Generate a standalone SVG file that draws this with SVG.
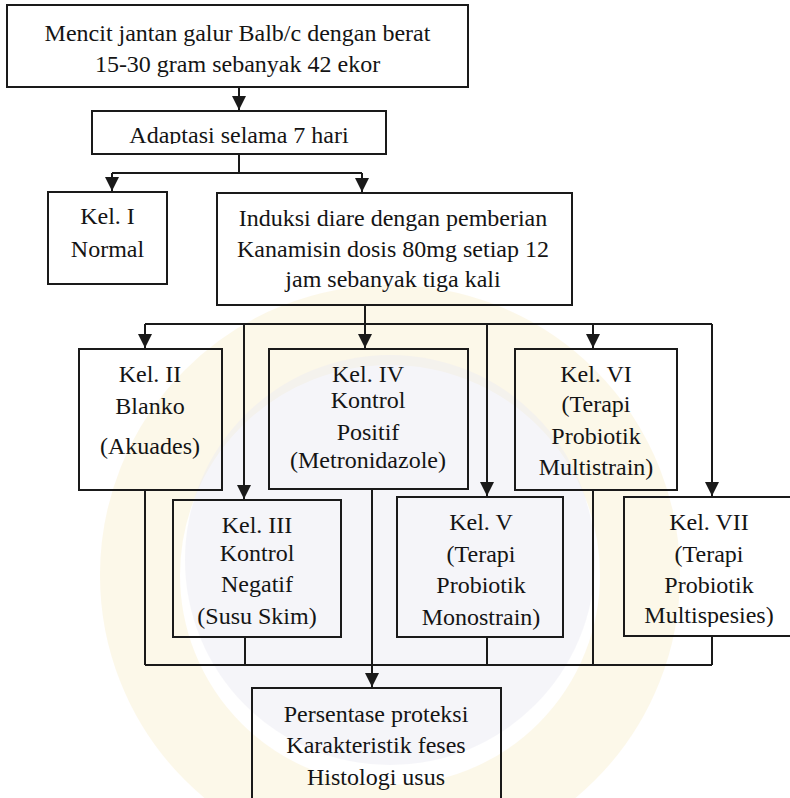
<svg xmlns="http://www.w3.org/2000/svg" width="790" height="798" viewBox="0 0 790 798">
<style>
.bg{fill:#ffffff}
.box{fill:none;stroke:#1a1a1a;stroke-width:2}
.t{font-family:"Liberation Serif","Times New Roman",serif;font-size:24px;fill:#141414;text-anchor:middle}
.c{fill:none;stroke:#1a1a1a;stroke-width:2}
</style>
<defs>
<marker id="ah" viewBox="0 0 14 14" markerWidth="14" markerHeight="14" markerUnits="userSpaceOnUse" refX="14" refY="7" orient="auto">
<path d="M0,0 L14,7 L0,14 Z" fill="#1a1a1a"/>
</marker>
<clipPath id="clipA"><rect x="90" y="100" width="300" height="44"/></clipPath>
<clipPath id="clipB"><rect x="620" y="490" width="170" height="137"/></clipPath>
</defs>
<rect class="bg" x="0" y="0" width="790" height="798"/>
<g id="watermark" opacity="0.5">
<circle cx="390" cy="575" r="250" fill="none" stroke="#f7e3a0" stroke-width="80" opacity="0.45"/>
<circle cx="390" cy="560" r="205" fill="#d6d6e8" opacity="0.45"/>
</g>
<g id="connectors">
<path class="c" d="M239,87 V110" marker-end="url(#ah)"/>
<path class="c" d="M239,154 V173 M112,173 H362"/>
<path class="c" d="M112,173 V191" marker-end="url(#ah)"/>
<path class="c" d="M362,173 V192" marker-end="url(#ah)"/>
<path class="c" d="M365,305 V324 M145,324 H712"/>
<path class="c" d="M145,324 V348" marker-end="url(#ah)"/>
<path class="c" d="M244,324 V499" marker-end="url(#ah)"/>
<path class="c" d="M365,324 V348" marker-end="url(#ah)"/>
<path class="c" d="M487,324 V496" marker-end="url(#ah)"/>
<path class="c" d="M593,324 V348" marker-end="url(#ah)"/>
<path class="c" d="M712,324 V496" marker-end="url(#ah)"/>
<path class="c" d="M145,490 V665 M245,637 V665 M487,637 V665 M593,490 V665 M712,636 V665 M145,665 H712"/>
<path class="c" d="M372,489 V687" marker-end="url(#ah)"/>
</g>
<g id="n-start">
<rect class="box" x="7" y="5" width="461" height="82"/>
<text class="t" x="237.5" y="41">Mencit jantan galur Balb/c dengan berat</text>
<text class="t" x="237.5" y="72">15-30 gram sebanyak 42 ekor</text>
</g>
<g id="n-adaptasi">
<rect class="box" x="92" y="111" width="294" height="43"/>
<text class="t" x="239" y="143" clip-path="url(#clipA)">Adaptasi selama 7 hari</text>
</g>
<g id="n-kel1">
<rect class="box" x="48" y="192" width="119" height="92"/>
<text class="t" x="107.5" y="224">Kel. I</text>
<text class="t" x="107.5" y="257">Normal</text>
</g>
<g id="n-induksi">
<rect class="box" x="217" y="193" width="355" height="112"/>
<text class="t" x="393" y="226">Induksi diare dengan pemberian</text>
<text class="t" x="393" y="257">Kanamisin dosis 80mg setiap 12</text>
<text class="t" x="393" y="287">jam sebanyak tiga kali</text>
</g>
<g id="n-kel2">
<rect class="box" x="79" y="349" width="143" height="141"/>
<text class="t" x="150" y="382">Kel. II</text>
<text class="t" x="150" y="414">Blanko</text>
<text class="t" x="150" y="454">(Akuades)</text>
</g>
<g id="n-kel4">
<rect class="box" x="269" y="349" width="199" height="140"/>
<text class="t" x="368" y="382">Kel. IV</text>
<text class="t" x="368" y="408">Kontrol</text>
<text class="t" x="368" y="440">Positif</text>
<text class="t" x="368" y="468">(Metronidazole)</text>
</g>
<g id="n-kel6">
<rect class="box" x="515" y="349" width="162" height="141"/>
<text class="t" x="596" y="382">Kel. VI</text>
<text class="t" x="596" y="412">(Terapi</text>
<text class="t" x="596" y="444">Probiotik</text>
<text class="t" x="596" y="475">Multistrain)</text>
</g>
<g id="n-kel3">
<rect class="box" x="173" y="500" width="168" height="137"/>
<text class="t" x="257" y="533">Kel. III</text>
<text class="t" x="257" y="561">Kontrol</text>
<text class="t" x="257" y="592">Negatif</text>
<text class="t" x="257" y="624">(Susu Skim)</text>
</g>
<g id="n-kel5">
<rect class="box" x="397" y="497" width="166" height="140"/>
<text class="t" x="481" y="530">Kel. V</text>
<text class="t" x="481" y="562">(Terapi</text>
<text class="t" x="481" y="593">Probiotik</text>
<text class="t" x="481" y="625">Monostrain)</text>
</g>
<g id="n-kel7">
<rect class="box" x="624" y="497" width="176" height="139"/>
<text class="t" x="709" y="530">Kel. VII</text>
<text class="t" x="709" y="562">(Terapi</text>
<text class="t" x="709" y="593">Probiotik</text>
<text class="t" x="709" y="623" clip-path="url(#clipB)">Multispesies)</text>
</g>
<g id="n-hasil">
<rect class="box" x="252" y="688" width="249" height="122"/>
<text class="t" x="376" y="722">Persentase proteksi</text>
<text class="t" x="376" y="753">Karakteristik feses</text>
<text class="t" x="376" y="785">Histologi usus</text>
</g>
</svg>
